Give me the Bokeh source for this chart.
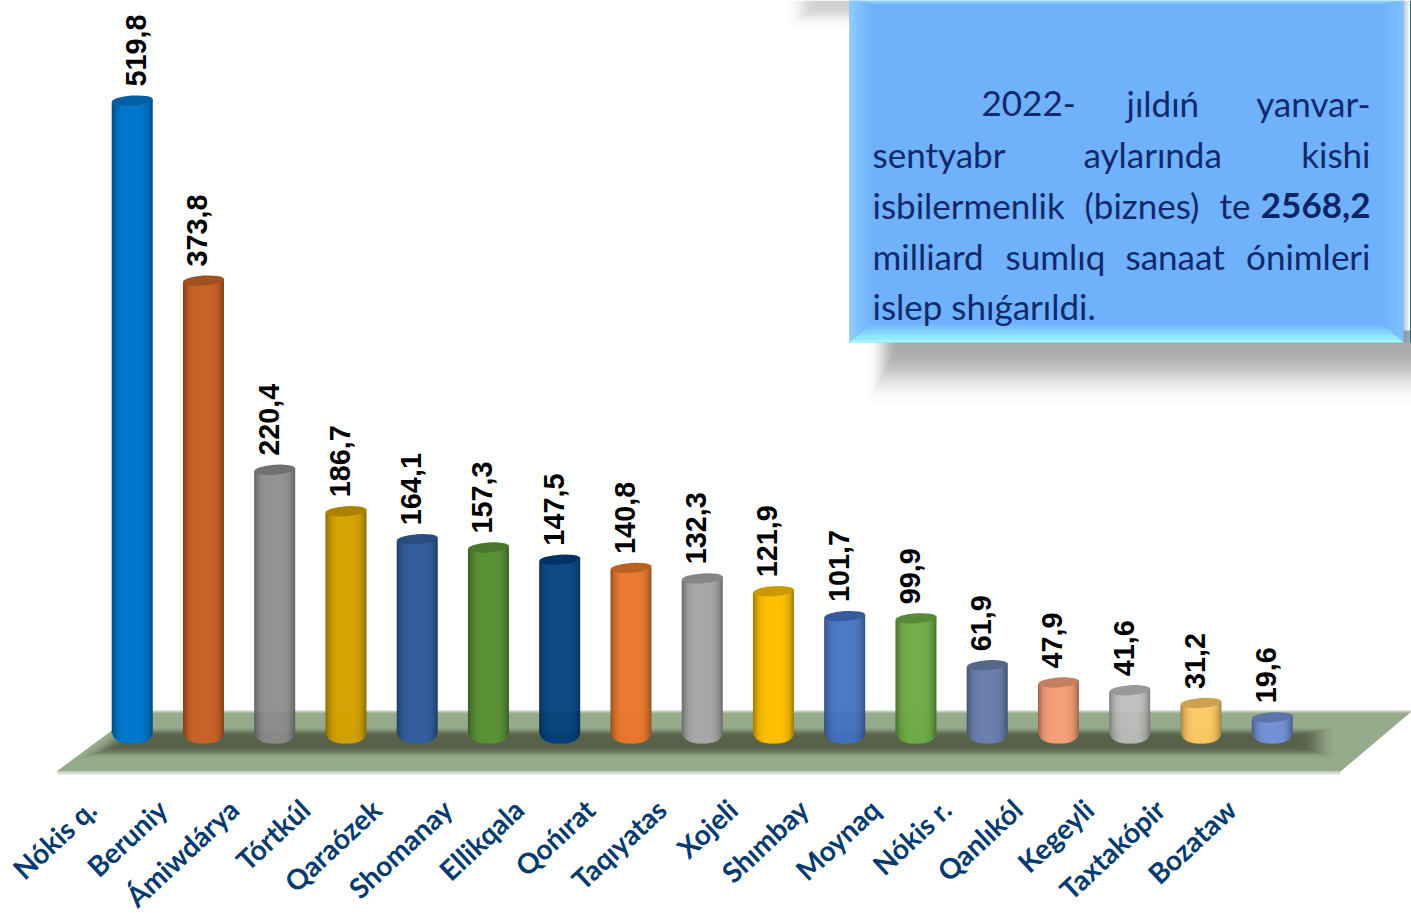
import math
from bokeh.plotting import figure
from bokeh.models import Range1d, LinearAxis, FixedTicker
from bokeh.core.properties import value
from bokeh.embed import file_html
from bokeh.resources import INLINE

categories = ["Nókis q.", "Beruniy", "Ámiwdárya", "Tórtkúl", "Qaraózek", "Shomanay", "Ellikqala",
              "Qońırat", "Taqıyatas", "Xojeli", "Shımbay", "Moynaq", "Nókis r.", "Qanlıkól",
              "Kegeyli", "Taxtakópir", "Bozataw"]
values = [519.8, 373.8, 220.4, 186.7, 164.1, 157.3, 147.5, 140.8, 132.3, 121.9, 101.7, 99.9,
          61.9, 47.9, 41.6, 31.2, 19.6]
labels = ["519,8", "373,8", "220,4", "186,7", "164,1", "157,3", "147,5", "140,8", "132,3", "121,9",
          "101,7", "99,9", "61,9", "47,9", "41,6", "31,2", "19,6"]
colors = ["#0078CC", "#C8652A", "#8E8E8E", "#D6A300", "#355F9F", "#5C9339", "#00407F", "#EC7A2E",
          "#A8A8A8", "#FFC000", "#4472C4", "#70AD47", "#6C80AE", "#F5A078", "#BEBEBE", "#FFCB66",
          "#7592D6"]

# pixel geometry of the page (reference coordinates)
W, H = 1411, 916
FRAME_BOTTOM = 790
X0, DX = 131.7, 71.25       # first bar centre, spacing
Y0, DY = 741.0, 1.233       # zero line, pixels per unit
BAR_W = 41


def X(px):
    return (px - X0) / DX


def Y(py):
    return (Y0 - py) / DY


def rgb(col, f):
    r, g, b = int(col[1:3], 16), int(col[3:5], 16), int(col[5:7], 16)
    return "#%02x%02x%02x" % (min(255, int(r * f)), min(255, int(g * f)), min(255, int(b * f)))


def mix(a, b, t):
    ca = [int(a[i:i + 2], 16) for i in (1, 3, 5)]
    cb = [int(b[i:i + 2], 16) for i in (1, 3, 5)]
    return "#%02x%02x%02x" % tuple(int(x + (y - x) * t) for x, y in zip(ca, cb))


def soft(t):
    # layers crowd in the middle of a blur, none pile up at its outer edge
    return 0.5 - math.sin(math.asin(1 - 2 * t) / 3)


def floor_left(py):
    return 56 + (771 - py) * 1.375


p = figure(width=W, height=H, frame_width=W, frame_height=FRAME_BOTTOM, toolbar_location=None,
           output_backend="svg", min_border=0, x_axis_location=None, y_axis_location=None,
           x_range=Range1d(X(0), X(W)), y_range=Range1d(Y(FRAME_BOTTOM), Y(0)))
p.grid.visible = False
p.outline_line_color = None
p.background_fill_color = "white"
p.border_fill_color = "white"

# category axis, shifted to the left of the bars
SHIFT = 41
p.extra_x_ranges["cats"] = Range1d(X(SHIFT), X(W + SHIFT))
ax = LinearAxis(x_range_name="cats", ticker=FixedTicker(ticks=list(range(len(categories)))),
                major_label_overrides={i: c for i, c in enumerate(categories)},
                major_label_orientation=0.75, major_label_standoff=8,
                major_label_text_font="Lato", major_label_text_font_style="bold",
                major_label_text_font_size="28px", major_label_text_color="#033A70",
                axis_line_color=None, major_tick_line_color=None, minor_tick_line_color=None)
p.add_layout(ax, "below")

# floor
p.quad(left=X(57), right=X(1340), top=Y(771), bottom=Y(774), color="#D9D9D9", line_width=0)
p.patch([X(56), X(1340), X(1411), X(137)], [Y(771), Y(771), Y(711), Y(711)], fill_color="#96AB8B", line_color=None)
p.quad(left=X(137), right=X(1411), top=Y(710), bottom=Y(712), color="#C4CEBC", line_width=0)

# floor shadow, kept inside the slanted floor edge
for k in range(16):
    t = soft(k / 15)
    yt, yb = 727 + t * 9, 757 - t * 11
    inset = 4 + t * 26
    xr = 1332 - t * 34
    p.patch([X(floor_left(yt) + inset), X(xr), X(xr), X(floor_left(yb) + inset)],
            [Y(yt), Y(yt), Y(yb), Y(yb)], fill_color="#2E332B", fill_alpha=0.056, line_color=None)

# bars
for i, (v, col) in enumerate(zip(values, colors)):
    ls, rs, ts, bs, cs = [], [], [], [], []
    for s in range(BAR_W):
        a = -BAR_W / 2 + s
        u = (a + 0.5) / (BAR_W / 2)
        shade = 0.62 + 0.38 * (1 - abs(u) ** 4)
        ed = 15 * (1 - (1 - abs(u) ** 2.6) ** (1 / 2.6))
        ls.append(i + a / DX)
        rs.append(i + min(a + 1.5, BAR_W / 2) / DX)
        ts.append(v + u * 2 / DY)
        bs.append((-2 + ed) / DY)
        cs.append(rgb(col, shade))
    p.quad(left=ls, right=rs, top=ts, bottom=bs, fill_color=cs, line_color=None)
p.ellipse(x=list(range(len(values))), y=values, width=BAR_W, height=10, angle=0.07,
          width_units="screen", height_units="screen",
          fill_color=[rgb(c, 0.8) for c in colors], line_color=None)

# value labels
LABEL_DX = [4] + [-6] * 16
p.text(x=[i + d / DX for i, d in enumerate(LABEL_DX)], y=[v + 14 / DY for v in values], text=labels,
       angle=math.pi / 2, text_align="left", text_baseline="middle", text_color="#000000",
       text_font=value("Liberation Sans"), text_font_style="bold", text_font_size="28.8px")

# shadows of the box
for k in range(24):
    t = soft(k / 23)
    p.quad(left=X(868 + t * 32), right=X(1420), top=Y(330), bottom=Y(402 - t * 58),
           color="#000000", fill_alpha=0.0165, line_color=None)
for k in range(12):
    t = soft(k / 11)
    p.quad(left=X(788 + t * 28), right=X(860), top=Y(0), bottom=Y(26 - t * 20),
           color="#000000", fill_alpha=0.015, line_color=None)
for k in range(6):
    p.quad(left=X(1403), right=X(1403 + k + 1), top=Y(0), bottom=Y(342), color="#6E8F9A", alpha=0.09, line_width=0)
p.quad(left=X(1409.5), right=X(1412), top=Y(0), bottom=Y(342), color="#1D6F84", line_width=0)

# box with bevel
BL, BR, BT, BB = 849, 1403, 0, 342
IL, IR, IT, IB = 873, 1380, 3, 322
CENTER = "#6FB1FB"
p.quad(left=X(BL), right=X(BR), top=Y(BT), bottom=Y(BB), color=CENTER, line_width=0)
STEPS = 12
for k in range(STEPS):
    t0 = k / STEPS
    t1 = min((k + 1.3) / STEPS, 1)
    xa, xb = IL + (BL - IL) * t0, IL + (BL - IL) * t1
    ya, yb = IB + (BB - IB) * t0, IB + (BB - IB) * t1
    ta, tb = IT + (BT - IT) * t0, IT + (BT - IT) * t1
    p.patch([X(xa), X(xb), X(xb), X(xa)], [Y(ta), Y(tb), Y(yb), Y(ya)],
            fill_color=mix(CENTER, "#8ECEFF", t0), line_color=None)
    xa, xb = IR + (BR - IR) * t0, IR + (BR - IR) * t1
    p.patch([X(xa), X(xb), X(xb), X(xa)], [Y(ta), Y(tb), Y(yb), Y(ya)],
            fill_color=mix(CENTER, "#80C2FE", t0), line_color=None)
for k in range(24):
    t0 = k / 24
    t1 = min((k + 1.3) / 24, 1)
    p.patch([X(IL + (BL - IL) * t0), X(IR + (BR - IR) * t0), X(IR + (BR - IR) * t1), X(IL + (BL - IL) * t1)],
            [Y(IB + (BB - IB) * t0), Y(IB + (BB - IB) * t0), Y(IB + (BB - IB) * t1), Y(IB + (BB - IB) * t1)],
            fill_color=mix(CENTER, "#A9FFFF", t0), line_color=None)
p.patch([X(BL), X(BR), X(IR), X(IL)], [Y(BT), Y(BT), Y(IT), Y(IT)], fill_color="#8ACDFE", line_color=None)

# box text, justified word by word
TXT = "#10296C"
FS = "35px"
left_words = [("2022-", 981, 102.5), ("jıldıń", 1126, 102.5), ("sentyabr", 872, 153.5), ("aylarında", 1083, 153.5),
              ("isbilermenlik", 872, 204.5), ("(biznes)", 1084, 204.5), ("te", 1219, 204.5),
              ("milliard", 872, 255.5), ("sumlıq", 1005, 255.5), ("sanaat", 1125, 255.5),
              ("islep shıǵarıldi.", 872, 305.5)]
right_words = [("yanvar-", 1370, 102.5), ("kishi", 1370, 153.5), ("ónimleri", 1370, 255.5)]
p.text(x=[X(w[1]) for w in left_words], y=[Y(w[2]) for w in left_words], text=[w[0] for w in left_words],
       text_align="left", text_baseline="middle", text_color=TXT, text_font=value("Lato"), text_font_size=FS)
p.text(x=[X(w[1]) for w in right_words], y=[Y(w[2]) for w in right_words], text=[w[0] for w in right_words],
       text_align="right", text_baseline="middle", text_color=TXT, text_font=value("Lato"), text_font_size=FS)
p.text(x=[X(1370)], y=[Y(204.5)], text=["2568,2"], text_align="right", text_baseline="middle", text_color="#0B2463",
       text_font=value("Lato"), text_font_style="bold", text_font_size=FS)

open("out.html", "w").write(file_html(p, INLINE))
